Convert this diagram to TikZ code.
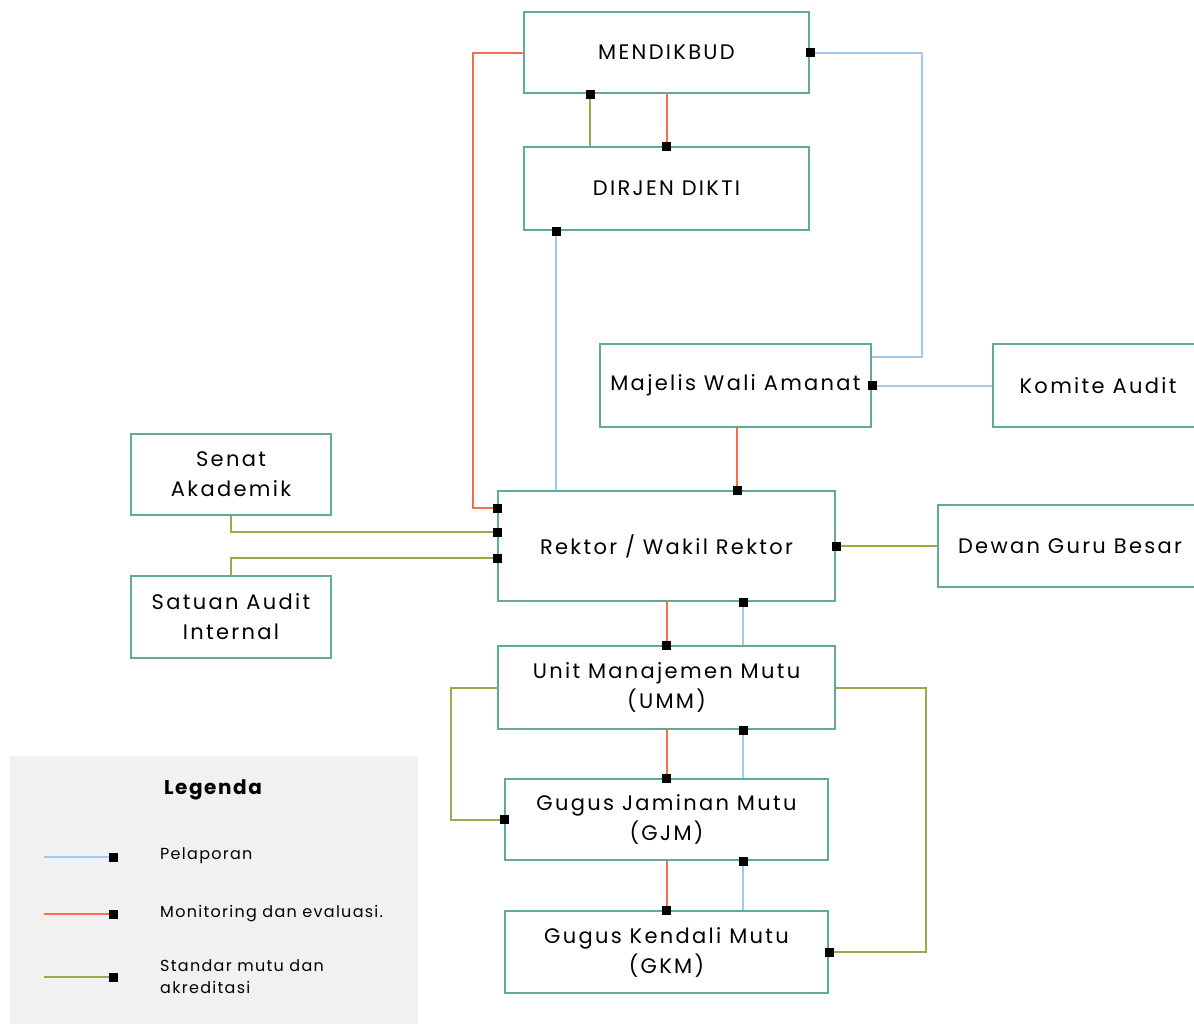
\documentclass[tikz,border=0pt]{standalone}
\usepackage{fontspec}
\usetikzlibrary{arrows.meta}
\newfontfamily\boxfont{Poppins}[LetterSpace=11]
\newfontfamily\legfont{Poppins}[LetterSpace=8]
\definecolor{boxc}{RGB}{96,170,150}
\definecolor{monc}{RGB}{244,112,72}
\definecolor{repc}{RGB}{160,202,246}
\definecolor{stdc}{RGB}{164,164,72}
\definecolor{legbg}{RGB}{241,241,241}
\tikzset{
  unit/.style={draw=boxc, line width=2pt, rectangle, inner sep=0pt, align=center,
    font=\boxfont\fontsize{21}{30}\selectfont},
  lapor/.style={draw=repc, line width=2pt},
  monev/.style={draw=monc, line width=2pt},
  mutu/.style={draw=stdc, line width=2pt},
  sqend/.style={-{Square[length=9pt,width=9pt,black]}, shorten >=-4.5pt},
  sqstart/.style={{Square[length=9pt,width=9pt,black]}-, shorten <=-4.5pt},
  legtext/.style={anchor=west, align=left, inner sep=0pt, font=\legfont\fontsize{16}{22}\selectfont}
}
\begin{document}
\begin{tikzpicture}[x=1pt,y=-1pt]
\useasboundingbox (0,0) rectangle (1194,1023);

% legend background
\fill[legbg] (10,756) rectangle (418,1030);

\node[unit, minimum width=285, minimum height=81] (mend) at (666.5,52.5) {MENDIKBUD};
\node[unit, minimum width=285, minimum height=83] (dirjen) at (666.5,188.5) {DIRJEN DIKTI};
\node[unit, minimum width=271, minimum height=83] (maj) at (735.5,385.5) {Majelis Wali Amanat};
\node[unit, minimum width=210, minimum height=83] (kom) at (1098,385.5) {Komite Audit};
\node[unit, minimum width=200, minimum height=81] (sen) at (231,474.5) {Senat\\Akademik};
\node[unit, minimum width=337, minimum height=110] (rek) at (666.5,546) {Rektor / Wakil Rektor};
\node[unit, minimum width=264, minimum height=82] (dew) at (1070,546) {Dewan Guru Besar};
\node[unit, minimum width=200, minimum height=82] (sat) at (231,617) {Satuan Audit\\Internal};
\node[unit, minimum width=337, minimum height=83] (umm) at (666.5,687.5) {Unit Manajemen Mutu\\(UMM)};
\node[unit, minimum width=323, minimum height=81] (gjm) at (666.5,819.5) {Gugus Jaminan Mutu\\(GJM)};
\node[unit, minimum width=323, minimum height=82] (gkm) at (666.5,952) {Gugus Kendali Mutu\\(GKM)};

% pelaporan
\path[lapor,sqstart] (mend.east) -- ++(112,0) |- ([yshift=28.5pt]maj.east);
\path[lapor,sqstart] ([xshift=-110.5pt]dirjen.south) -- ([xshift=-110.5pt]rek.north);
\path[lapor,sqstart] (maj.east) -- (kom.west);
\path[lapor,sqend] ([xshift=76.5pt]umm.north) -- ([xshift=76.5pt]rek.south);
\path[lapor,sqend] ([xshift=76.5pt]gjm.north) -- ([xshift=76.5pt]umm.south);
\path[lapor,sqend] ([xshift=76.5pt]gkm.north) -- ([xshift=76.5pt]gjm.south);

% monitoring dan evaluasi
\path[monev,sqend] (mend.west) -- ++(-50,0) |- ([yshift=38pt]rek.west);
\path[monev,sqend] (mend.south) -- (dirjen.north);
\path[monev,sqend] ([xshift=1.5pt]maj.south) -- ([xshift=1.5pt]maj.south |- rek.north);
\path[monev,sqend] (rek.south) -- (umm.north);
\path[monev,sqend] (umm.south) -- (gjm.north);
\path[monev,sqend] (gjm.south) -- (gkm.north);

% standar mutu dan akreditasi
\path[mutu,sqstart] ([xshift=-76.5pt]mend.south) -- ([xshift=-76.5pt]dirjen.north);
\path[mutu,sqend] (sen.south) |- ([yshift=14pt]rek.west);
\path[mutu,sqend] (sat.north) |- ([yshift=-12pt]rek.west);
\path[mutu,sqstart] (rek.east) -- (dew.west);
\path[mutu,sqend] (umm.west) -- ++(-46,0) |- (gjm.west);
\path[mutu,sqend] (umm.east) -- ++(90,0) |- (gkm.east);

% legenda
\node[font=\legfont\fontsize{20}{24}\selectfont\bfseries] (legtitle) at (213,790) {Legenda};
\coordinate (l1) at (44,857);
\coordinate (l2) at (44,914);
\coordinate (l3) at (44,977);
\node[legtext] (t1) at (160,856) {Pelaporan};
\node[legtext] (t2) at (160,914) {Monitoring dan evaluasi.};
\node[legtext] (t3) at (160,977) {Standar mutu dan\\akreditasi};
\path[lapor,sqend] (l1) -- ++(69,0);
\path[monev,sqend] (l2) -- ++(69,0);
\path[mutu,sqend] (l3) -- ++(69,0);
\end{tikzpicture}
\end{document}
